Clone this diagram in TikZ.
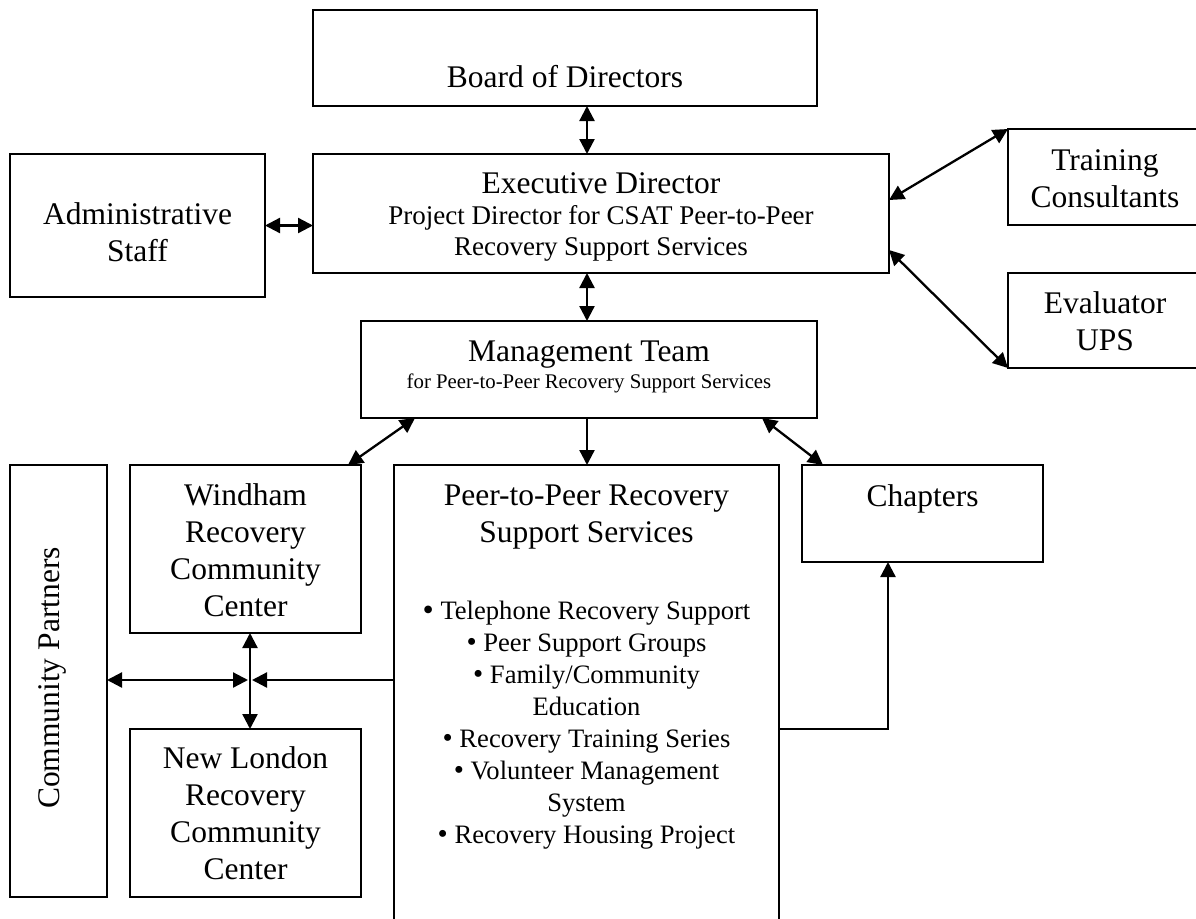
\documentclass[tikz,border=0pt]{standalone}
\usepackage{fontspec}
\setmainfont{Liberation Serif}
\usetikzlibrary{arrows.meta}
\newcommand\fA{\fontsize{31.5}{37}\selectfont}
\newcommand\fB{\fontsize{27}{31}\selectfont}
\newcommand\fD{\fontsize{26.6}{32}\selectfont}
\newcommand\fC{\fontsize{20.8}{25}\selectfont}
\newcommand\bigbul{\raisebox{-1.8pt}{\fontsize{32}{32}\selectfont\textbullet}}
\newcommand\bul{\raisebox{-0.8pt}{\fontsize{29}{32}\selectfont\textbullet}}
\tikzset{
  box/.style={draw, line width=2pt, rectangle, inner sep=0pt, outer sep=0pt},
  txt/.style={inner sep=0pt, outer sep=0pt, align=center, font=\fA},
  mtxt/.style={txt, anchor=north},
  conn/.style={line width=2.3pt},
  dbl/.style={conn, {Triangle[length=15pt,width=15pt]}-{Triangle[length=15pt,width=15pt]}},
  one/.style={conn, -{Triangle[length=15pt,width=15pt]}}
}
\begin{document}
\begin{tikzpicture}[x=1pt,y=-1pt]
\useasboundingbox (0,0) rectangle (1196,918);
\fill[white] (0,0) rectangle (1196,918);
\clip (0,0) rectangle (1196,918);
% boxes
\node[box, minimum width=504pt, minimum height=96pt] (board) at (565,58) {};
\node[box, minimum width=576pt, minimum height=119pt] (exec) at (601,213.5) {};
\node[box, minimum width=255pt, minimum height=143pt] (admin) at (137.5,225.5) {};
\node[box, minimum width=194pt, minimum height=96pt] (train) at (1105,177) {};
\node[box, minimum width=194pt, minimum height=95pt] (eval) at (1105,320.5) {};
\node[box, minimum width=456pt, minimum height=97pt] (mgmt) at (589,369.5) {};
\node[box, minimum width=231pt, minimum height=168pt] (wind) at (245.5,549) {};
\node[box, minimum width=231pt, minimum height=168pt] (nl) at (245.5,813) {};
\node[box, minimum width=97pt, minimum height=432pt] (cp) at (58.5,681) {};
\node[box, minimum width=385pt, minimum height=485pt] (peer) at (586.5,707.5) {};
\node[box, minimum width=241pt, minimum height=97pt] (chap) at (922.5,513.5) {};
% texts
\node[txt, anchor=base] (boardt) at (565,87) {Board of Directors};
\node[txt, anchor=base] (exect) at (601,193) {Executive Director};
\node[mtxt, font=\fB] (execs) at (601,202.3) {\strut Project Director for CSAT Peer-to-Peer\\Recovery Support Services};
\node[mtxt] (admint) at (137.5,198.1) {\strut Administrative\\Staff};
\node[mtxt] (traint) at (1105,144.1) {\strut Training\\Consultants};
\node[mtxt] (evalt) at (1105,287.1) {\strut Evaluator\\UPS};
\node[txt, anchor=base] (mgmtt) at (589,361) {Management Team};
\node[txt, anchor=base, font=\fC] (mgmts) at (589,388) {for Peer-to-Peer Recovery Support Services};
\node[mtxt] (windt) at (245.5,479.1) {\strut Windham\\Recovery\\Community\\Center};
\node[mtxt] (nlt) at (245.5,742.1) {\strut New London\\Recovery\\Community\\Center};
\node[mtxt] (peert) at (586.5,479.1) {\strut Peer-to-Peer Recovery\\Support Services};
\node[mtxt, font=\fD] (peerl) at (586.5,596.6) {\strut\bigbul\ Telephone Recovery Support\\\bul\ Peer Support Groups\\\bul\ Family/Community\\Education\\\bul\ Recovery Training Series\\\bul\ Volunteer Management\\System\\\bul\ Recovery Housing Project};
\node[txt, anchor=base] (chapt) at (922.5,506) {Chapters};
\node[txt, rotate=90] (cpt) at (52.5,678) {Community Partners};
% connectors
\coordinate (cx) at (587,0);
\coordinate (jn) at (250,680);
\draw[dbl] (board.south -| cx) -- (exec.north -| cx);
\draw[dbl] (admin.east) -- (admin.east -| exec.west);
\draw[dbl] (exec.east |- 0,200) -- (train.north west);
\draw[dbl] (exec.east |- 0,250) -- (eval.south west);
\draw[dbl] (exec.south -| cx) -- (mgmt.north -| cx);
\draw[dbl] (mgmt.south -| 415,0) -- (wind.north -| 348,0);
\draw[one] (mgmt.south -| cx) -- (peer.north -| cx);
\draw[dbl] (mgmt.south -| 762,0) -- (chap.north -| 823,0);
\draw[one] (peer.east |- 0,729) -| (chap.south -| 888,0);
\draw[one] (peer.west |- jn) -- ([xshift=2pt]jn);
\draw[dbl] (cp.east |- jn) -- ([xshift=-2pt]jn);
\draw[dbl] (wind.south -| jn) -- (nl.north -| jn);
\end{tikzpicture}
\end{document}
